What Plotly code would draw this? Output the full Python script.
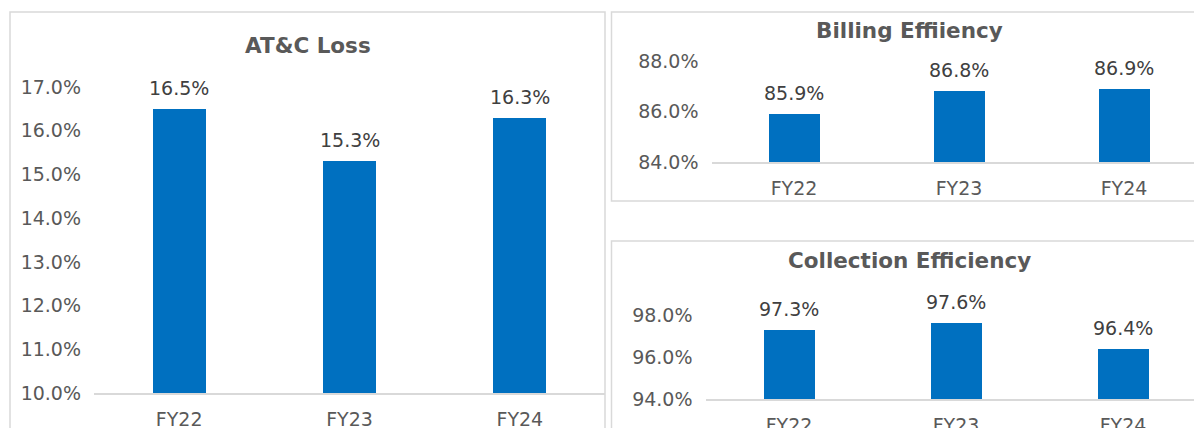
import plotly.graph_objects as go

W, H = 1194, 428

categories = ["FY22", "FY23", "FY24"]
atc_loss = [16.5, 15.3, 16.3]
billing_eff = [85.9, 86.8, 86.9]
collection_eff = [97.3, 97.6, 96.4]

titles = ["AT&C Loss", "Billing Effiiency", "Collection Efficiency"]
atc_ticks = [10, 11, 12, 13, 14, 15, 16, 17]
billing_ticks = [84, 86, 88]
collection_ticks = [94, 96, 98]

BAR = "#0070C0"
GRID = "#D9D9D9"
TXT = "#595959"
FONT = "DejaVu Sans"


def px(x):
    return x / W


def py(y):
    return 1 - y / H


fig = go.Figure()

panels = [
    dict(vals=atc_loss, ticks=atc_ticks, xd=[px(94), px(605)], yd=[py(393), py(87)],
         yr=[10, 17], xr=[-0.5, 2.5], width=0.31, title=titles[0], tx=307.5, ty=45.5),
    dict(vals=billing_eff, ticks=billing_ticks, xd=[px(711.5), 1], yd=[py(162), py(61)],
         yr=[84, 88], xr=[-0.5, 2.5 - 12.5 / 165], width=0.315, title=titles[1], tx=909.5, ty=31),
    dict(vals=collection_eff, ticks=collection_ticks, xd=[px(705.5), 1], yd=[py(399), py(315)],
         yr=[94, 98], xr=[-0.5, 2.5 - 12.5 / 167], width=0.31, title=titles[2], tx=909.5, ty=260),
]

layout = {}
for i, p in enumerate(panels):
    sfx = "" if i == 0 else str(i + 1)
    xa, ya = "x" + sfx, "y" + sfx
    fig.add_trace(go.Bar(
        x=[0, 1, 2], y=p["vals"],
        xaxis=xa, yaxis=ya, marker=dict(color=BAR, line=dict(width=0)),
        width=p["width"], showlegend=False, hoverinfo="skip",
    ))
    for j, v in enumerate(p["vals"]):
        fig.add_annotation(x=j, y=v, xref=xa, yref=ya, text=f"{v:.1f}%",
                           showarrow=False, yanchor="middle", yshift=21,
                           font=dict(family=FONT, size=19, color="#404040"))
    layout["xaxis" + sfx] = dict(
        domain=p["xd"], range=p["xr"], anchor=ya, tickmode="array",
        tickvals=[0, 1, 2], ticktext=categories, showline=True, linecolor=GRID,
        linewidth=2, showgrid=False, zeroline=False, ticks="", automargin=False,
        tickfont=dict(family=FONT, size=19, color=TXT), ticklabelstandoff=8,
    )
    layout["yaxis" + sfx] = dict(
        domain=p["yd"], range=p["yr"], anchor=xa, tickmode="array",
        tickvals=p["ticks"], ticktext=[f"{t:.1f}%" for t in p["ticks"]],
        showline=False, showgrid=False, zeroline=False, ticks="", automargin=False,
        tickfont=dict(family=FONT, size=19, color=TXT), ticklabelstandoff=12,
    )
    fig.add_annotation(x=px(p["tx"]), y=py(p["ty"]), xref="paper", yref="paper",
                       text=f"<b>{p['title']}</b>", showarrow=False,
                       xanchor="center", yanchor="middle",
                       font=dict(family=FONT, size=21.5, color=TXT))

# panel frames
frames = [(10, 12, 605, 460), (611.5, 12, 1230, 201), (611.5, 241, 1230, 460)]
shapes = []
for x0, y0, x1, y1 in frames:
    shapes.append(dict(type="rect", xref="paper", yref="paper",
                       x0=px(x0), x1=px(x1), y0=py(y1), y1=py(y0),
                       line=dict(color=GRID, width=1.5), fillcolor="rgba(0,0,0,0)",
                       layer="below"))

fig.update_layout(
    width=W, height=H, margin=dict(l=0, r=0, t=0, b=0, autoexpand=False),
    paper_bgcolor="white", plot_bgcolor="rgba(0,0,0,0)",
    shapes=shapes, bargap=0, **layout,
)

fig.write_html("out.html", config={"displayModeBar": False})
